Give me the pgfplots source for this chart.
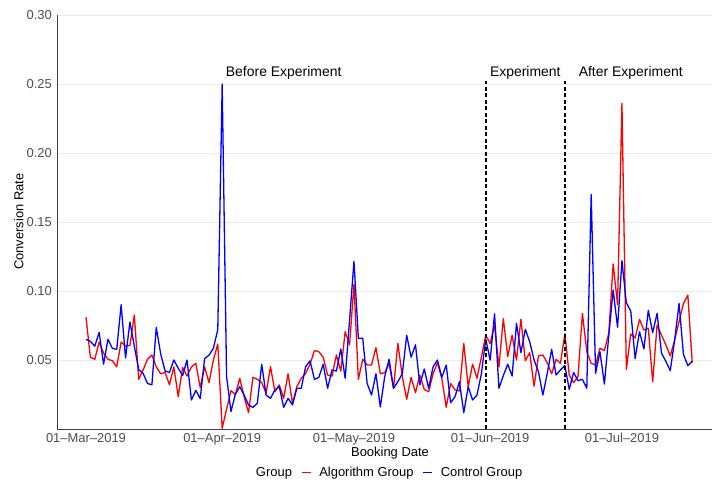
\documentclass[border=0pt]{standalone}
\usepackage{pgfplots}
\usepackage{pgfplotstable}
\pgfplotsset{compat=1.18}
\usepackage{fontspec}
\setmainfont{Liberation Sans}
\definecolor{gridgray}{HTML}{EBEBEB}
\definecolor{ticktext}{HTML}{4D4D4D}
\definecolor{axred}{HTML}{FF0000}
\definecolor{axblue}{HTML}{0000FF}

\pgfplotstableread{
d r b
0 0.081 0.065
1 0.052 0.0635
2 0.0505 0.060
3 0.063 0.070
4 0.055 0.047
5 0.0505 0.065
6 0.0495 0.0585
7 0.045 0.0577
8 0.063 0.090
9 0.060 0.0515
10 0.0606 0.0775
11 0.0826 0.060
12 0.036 0.043
13 0.0428 0.0403
14 0.0505 0.033
15 0.0536 0.032
16 0.045 0.0736
17 0.040 0.0545
18 0.041 0.042
19 0.032 0.041
20 0.045 0.050
21 0.0234 0.044
22 0.0447 0.0387
23 0.0384 0.050
24 0.045 0.021
25 0.0476 0.028
26 0.030 0.022
27 0.045 0.051
28 0.0336 0.0535
29 0.050 0.0585
30 0.0616 0.072
31 0.0005 0.250
32 0.0143 0.038
33 0.0278 0.0126
34 0.0250 0.0252
35 0.0367 0.0307
36 0.0234 0.0246
37 0.0118 0.0174
38 0.0374 0.0157
39 0.036 0.0186
40 0.0336 0.0469
41 0.026 0.0246
42 0.0452 0.0222
43 0.027 0.0283
44 0.0319 0.0307
45 0.0222 0.0157
46 0.040 0.0222
47 0.0186 0.0174
48 0.0307 0.0295
49 0.0367 0.0295
50 0.0403 0.0452
51 0.047 0.0493
52 0.0568 0.036
53 0.056 0.0374
54 0.052 0.0469
55 0.0391 0.0295
56 0.0384 0.0428
57 0.0536 0.042
58 0.042 0.058
59 0.0705 0.0367
60 0.061 0.079
61 0.105 0.1215
62 0.036 0.0657
63 0.0505 0.0657
64 0.0464 0.033
65 0.0464 0.0246
66 0.059 0.040
67 0.040 0.016
68 0.0408 0.038
69 0.0476 0.0505
70 0.0295 0.0295
71 0.062 0.0343
72 0.038 0.040
73 0.0215 0.068
74 0.0374 0.052
75 0.0263 0.061
76 0.039 0.032
77 0.0287 0.0435
78 0.027 0.0295
79 0.040 0.045
80 0.048 0.050
81 0.0367 0.0374
82 0.0157 0.0464
83 0.033 0.019
84 0.0283 0.0234
85 0.0275 0.0343
86 0.062 0.0118
87 0.0307 0.0307
88 0.047 0.021
89 0.0367 0.0246
90 0.052 0.040
91 0.068 0.065
92 0.062 0.050
93 0.075 0.0835
94 0.045 0.0295
95 0.080 0.0387
96 0.0524 0.047
97 0.068 0.0384
98 0.050 0.0766
99 0.0795 0.0553
100 0.0495 0.0722
101 0.0553 0.0633
102 0.031 0.050
103 0.053 0.0415
104 0.0536 0.0246
105 0.048 0.0403
106 0.040 0.0577
107 0.0505 0.0391
108 0.0476 0.0428
109 0.069 0.046
110 0.0391 0.0287
111 0.0336 0.041
112 0.038 0.035
113 0.0838 0.036
114 0.056 0.0295
115 0.0476 0.170
116 0.0464 0.0403
117 0.0585 0.056
118 0.0568 0.0326
119 0.0693 0.0675
120 0.1196 0.1007
121 0.090 0.0737
122 0.236 0.122
123 0.0432 0.0915
124 0.0688 0.0855
125 0.066 0.051
126 0.0795 0.0705
127 0.0717 0.058
128 0.073 0.086
129 0.0343 0.0698
130 0.0754 0.0838
131 0.068 0.055
132 0.061 0.049
133 0.053 0.0423
134 0.0645 0.0645
135 0.0778 0.091
136 0.091 0.054
137 0.097 0.046
138 0.048 0.049
}\convdata

\begin{document}
\begin{tikzpicture}
\path[use as bounding box] (-57bp,-56bp) rectangle (655bp,429bp);
\begin{axis}[
  scale only axis, width=655bp, height=414bp,
  at={(0bp,0bp)}, anchor=south west,
  xmin=-6.6, xmax=142.5, ymin=0, ymax=0.30,
  axis x line*=bottom, axis y line*=left,
  axis line style={-, black!75, line width=0.8bp},
  xtick={0,31,61,92,122},
  xticklabels={01--Mar--2019,01--Apr--2019,01--May--2019,01--Jun--2019,01--Jul--2019},
  ytick={0.05,0.10,0.15,0.20,0.25,0.30},
  yticklabels={0.05,0.10,0.15,0.20,0.25,0.30},
  major tick length=0pt,
  ymajorgrids, grid style={gridgray, line width=0.8bp},
  tick label style={font=\fontsize{13}{15}\selectfont, text=ticktext, inner sep=0pt},
  xticklabel style={anchor=north, yshift=-4bp},
  yticklabel style={anchor=east, xshift=-5bp},
  legend style={at={(0.2916,-0.1051)}, anchor=west, draw=none, fill=none,
    legend columns=-1, font=\fontsize{13}{15}\selectfont, inner sep=0pt, outer sep=0pt,
    nodes={inner sep=0pt},
    /tikz/every odd column/.append style={column sep=8bp},
    /tikz/every even column/.append style={column sep=9bp}},
  legend image code/.code={\draw[#1] (0bp,0bp) -- (9bp,0bp);},
  clip=true,
]
\addlegendimage{empty legend}
\addlegendentry{Group}
\addplot[axred, line width=1.3bp, line join=round] table[x=d, y=r] {\convdata};
\addlegendentry{Algorithm Group}
\addplot[axblue, line width=1.3bp, line join=round] table[x=d, y=b] {\convdata};
\addlegendentry{Control Group}
\addplot[forget plot, black, line width=1.6bp, dash pattern=on 4bp off 2.5bp] coordinates {(91,0) (91,0.252)};
\addplot[forget plot, black, line width=1.6bp, dash pattern=on 4bp off 2.5bp] coordinates {(109,0) (109,0.252)};
\node[anchor=base, font=\fontsize{14}{16}\selectfont] at (axis cs:45,0.2555) {Before Experiment};
\node[anchor=base, font=\fontsize{14}{16}\selectfont] at (axis cs:100,0.2555) {Experiment};
\node[anchor=base, font=\fontsize{14}{16}\selectfont] at (axis cs:124,0.2555) {After Experiment};
\end{axis}
\node[anchor=base, font=\fontsize{13}{15}\selectfont] at (333bp,-27bp) {Booking Date};
\node[anchor=base, rotate=90, font=\fontsize{13}{15}\selectfont] at (-33.7bp,207.3bp) {Conversion Rate};
\end{tikzpicture}
\end{document}
